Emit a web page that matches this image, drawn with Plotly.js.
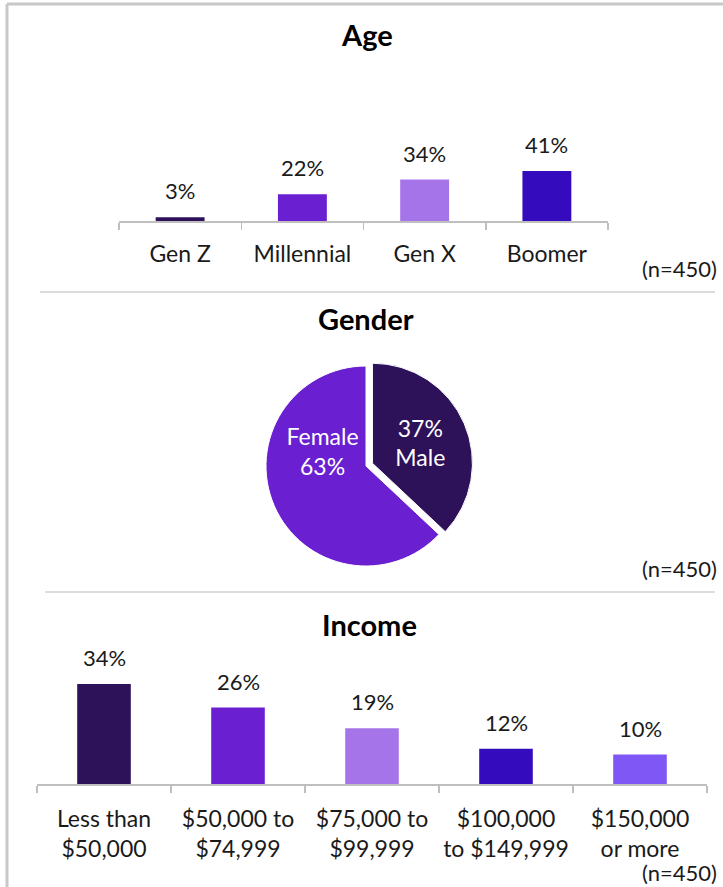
<!DOCTYPE html>
<html><head><meta charset="utf-8">
<script src="https://cdn.plot.ly/plotly-3.0.1.min.js"></script>
<style>html,body{margin:0;padding:0;background:#fff;}#chart{width:723px;height:887px;}</style>
</head><body><div id="chart"></div>
<script>
const ageCats = ['Gen Z', 'Millennial', 'Gen X', 'Boomer'];
const ageVals = [3, 22, 34, 41];
const ageColors = ['#2d1159', '#6a1fd1', '#a574e8', '#350cbd'];

const genderLabels = ['Male', 'Female'];
const genderVals = [37, 63];
const genderColors = ['#2d1159', '#6a1fd1'];

const incomeCats = ['Less than<br>$50,000', '$50,000 to<br>$74,999', '$75,000 to<br>$99,999', '$100,000<br>to $149,999', '$150,000<br>or more'];
const incomeVals = [34, 26, 19, 12, 10];
const incomeColors = ['#2d1159', '#6a1fd1', '#a574e8', '#350cbd', '#7f57f5'];

const sampleNote = '(n=450)';
const W = 723, H = 887;
const px = v => v / W, py = v => 1 - v / H;
const FONT = 'Lato, "Open Sans", sans-serif';
const TXT = '#1a1a1a';

const traces = [
  {type: 'bar', x: ageCats, y: ageVals, xaxis: 'x', yaxis: 'y',
   marker: {color: ageColors}, width: 0.4, hoverinfo: 'none'},
  {type: 'pie', labels: genderLabels, values: genderVals, sort: false,
   direction: 'clockwise', rotation: 0, pull: [0.07, 0],
   marker: {colors: genderColors, line: {color: '#ffffff', width: 1}},
   texttemplate: ['%{percent}<br>%{label}', '%{label}<br>%{percent}<br> '],
   textposition: 'inside', insidetextorientation: 'horizontal',
   textfont: {family: FONT, size: 23, color: '#ffffff'},
   domain: {x: [px(259), px(473)], y: [py(573), py(359)]},
   showlegend: false, hoverinfo: 'none'},
  {type: 'bar', x: incomeCats, y: incomeVals, xaxis: 'x2', yaxis: 'y2',
   marker: {color: incomeColors}, width: 0.4, hoverinfo: 'none'}
];

const annotations = [];
ageCats.forEach((c, i) => annotations.push({xref: 'x', yref: 'y', x: c, y: ageVals[i],
  text: ageVals[i] + '%', showarrow: false, yanchor: 'bottom', yshift: 11,
  font: {family: FONT, size: 22, color: TXT}}));
incomeCats.forEach((c, i) => annotations.push({xref: 'x2', yref: 'y2', x: c, y: incomeVals[i],
  text: incomeVals[i] + '%', showarrow: false, yanchor: 'bottom', yshift: 11,
  font: {family: FONT, size: 22, color: TXT}}));
[['Age', 367, 35], ['Gender', 366, 318], ['Income', 370, 624]].forEach(t => annotations.push({
  xref: 'paper', yref: 'paper', x: px(t[1]), y: py(t[2]), text: '<b>' + t[0] + '</b>',
  showarrow: false, xanchor: 'center', yanchor: 'middle',
  font: {family: FONT, size: 29, weight: 900, color: '#000'}}));
[268, 568, 872].forEach(yy => annotations.push({xref: 'paper', yref: 'paper', x: px(719), y: py(yy),
  text: sampleNote, showarrow: false, xanchor: 'right', yanchor: 'middle',
  font: {family: FONT, size: 22, color: TXT}}));

const shapes = [
  {type: 'line', xref: 'paper', yref: 'paper', x0: px(7), x1: px(723), y0: py(4), y1: py(4), line: {color: '#c8c8c8', width: 3}},
  {type: 'line', xref: 'paper', yref: 'paper', x0: px(7), x1: px(7), y0: py(4), y1: 0, line: {color: '#c8c8c8', width: 3}},
  {type: 'line', xref: 'paper', yref: 'paper', x0: px(40), x1: px(715), y0: py(292), y1: py(292), line: {color: '#d0d0d0', width: 1.5}},
  {type: 'line', xref: 'paper', yref: 'paper', x0: px(45), x1: px(715), y0: py(592), y1: py(592), line: {color: '#d0d0d0', width: 1.5}}
];

const axisCommon = {showgrid: false, zeroline: false, showline: true, linecolor: '#bfbfbf', linewidth: 2,
  ticks: 'outside', tickson: 'boundaries', ticklen: 7, tickcolor: '#bfbfbf', tickwidth: 1.5, tickangle: 0,
  tickfont: {family: FONT, size: 23, color: TXT}, fixedrange: true, type: 'category'};

const layout = {
  width: W, height: H, margin: {l: 0, r: 0, t: 0, b: 0},
  paper_bgcolor: '#ffffff', plot_bgcolor: 'rgba(0,0,0,0)', showlegend: false,
  bargap: 0.6,
  xaxis: Object.assign({}, axisCommon, {domain: [px(119), px(608)], anchor: 'y', ticklabelstandoff: 11}),
  yaxis: {domain: [py(221), py(160)], range: [0, 50], visible: false, fixedrange: true},
  xaxis2: Object.assign({}, axisCommon, {domain: [px(37), px(707)], anchor: 'y2', ticklabelstandoff: 13}),
  yaxis2: {domain: [py(784), py(666.4)], range: [0, 40], visible: false, fixedrange: true},
  annotations: annotations, shapes: shapes
};

Plotly.newPlot('chart', traces, layout, {displayModeBar: false, staticPlot: true});
</script></body></html>
